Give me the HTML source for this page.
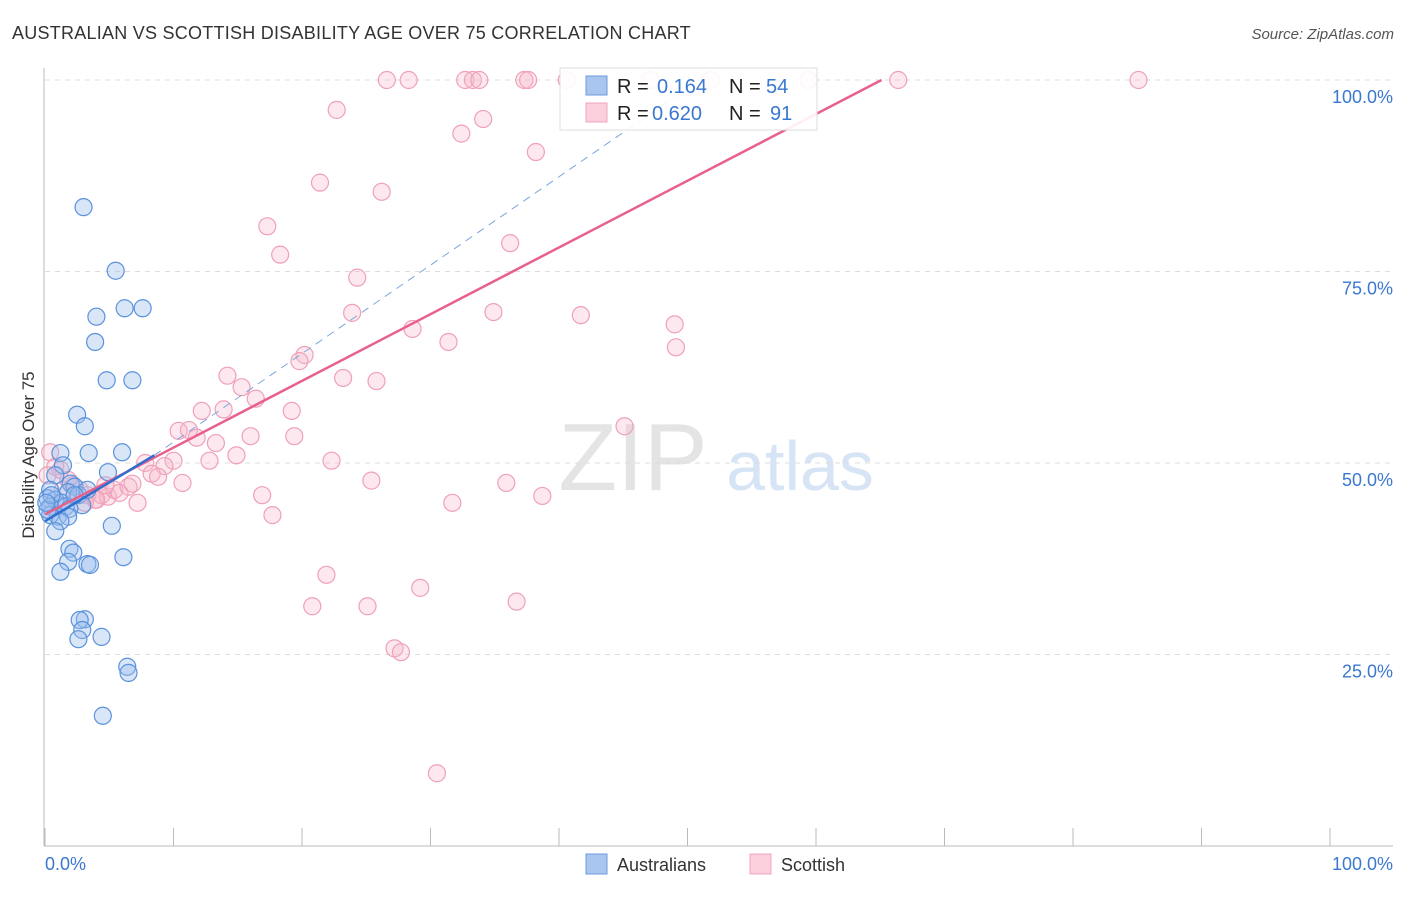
<!DOCTYPE html>
<html><head><meta charset="utf-8"><style>
body{margin:0;background:#fff;font-family:"Liberation Sans",sans-serif}
svg text{font-family:"Liberation Sans",sans-serif}
</style></head><body>
<svg id="chart" width="1406" height="892">
<text x="12" y="39" font-size="18" fill="#333" letter-spacing="0.25">AUSTRALIAN VS SCOTTISH DISABILITY AGE OVER 75 CORRELATION CHART</text>
<text x="1394" y="39" font-size="15" fill="#555" font-style="italic" text-anchor="end">Source: ZipAtlas.com</text>
<text x="633" y="490" font-size="96" fill="#e4e4e4" font-family="Liberation Serif" text-anchor="middle">ZIP</text>
<text x="800" y="490" font-size="70" fill="#d6e4f5" text-anchor="middle">atlas</text>
<g id="grid"></g><g id="axes"></g><g id="pts"></g><g id="trends"></g>
<text transform="translate(34,455) rotate(-90)" font-size="17" fill="#333" text-anchor="middle">Disability Age Over 75</text>
<text x="45" y="870" font-size="18" fill="#3a78d0">0.0%</text>
<text x="1393" y="870" font-size="18" fill="#3a78d0" text-anchor="end">100.0%</text>
<g>
<rect x="560" y="68" width="257" height="62" fill="#fff" fill-opacity="0.9" stroke="#ddd"/>
<rect x="586" y="76" width="21" height="19" fill="#a9c6ef" stroke="#6d9be0"/>
<rect x="586" y="103" width="21" height="19" fill="#fbd0dc" stroke="#f2a4ba"/>
<text x="617" y="93" font-size="20" fill="#222">R = </text><text x="657" y="93" font-size="20" fill="#3a78d0">0.164</text>
<text x="729" y="93" font-size="20" fill="#222">N = </text><text x="766" y="93" font-size="20" fill="#3a78d0">54</text>
<text x="617" y="120" font-size="20" fill="#222">R = </text><text x="652" y="120" font-size="20" fill="#3a78d0">0.620</text>
<text x="729" y="120" font-size="20" fill="#222">N = </text><text x="770" y="120" font-size="20" fill="#3a78d0">91</text>
</g>
<g><rect x="586" y="854" width="21" height="20" fill="#a9c6ef" stroke="#6d9be0"/><text x="617" y="871" font-size="18" fill="#333">Australians</text></g>
<g><rect x="750" y="854" width="21" height="20" fill="#fbd0dc" stroke="#f2a4ba"/><text x="781" y="871" font-size="18" fill="#333">Scottish</text></g>
</svg>
<script>
const yTicks=[25,50,75,100];
const yTickLabels=["25.0%","50.0%","75.0%","100.0%"];
const xTicks=[0,10,20,30,40,50,60,70,80,90,100];
const ausX=[3.0,5.5,4.0,6.2,7.6,3.9,4.8,6.8,2.5,3.1,1.2,3.4,6.0,1.4,4.9,0.8,2.0,2.3,0.4,1.8,2.6,0.2,0.8,1.3,2.9,0.4,1.6,1.9,1.0,1.8,0.4,1.2,5.2,0.8,1.9,2.2,1.8,6.1,3.3,3.5,1.2,3.1,2.7,2.9,2.6,4.4,6.4,6.5,4.5,0.2,0.5,0.1,3.3,2.3];
const ausY=[83.4,75.1,69.1,70.2,70.2,65.8,60.8,60.8,56.3,54.8,51.3,51.3,51.4,49.7,48.8,48.4,47.3,46.9,46.5,46.2,45.8,45.4,45.2,44.8,44.5,44.3,44.3,44.0,43.0,43.0,43.2,42.4,41.8,41.1,38.8,38.3,37.1,37.7,36.8,36.7,35.8,29.6,29.5,28.2,27.0,27.3,23.4,22.6,17.0,43.9,45.8,44.8,46.5,45.8];
const scoX=[26.6,28.3,32.7,33.3,33.8,37.3,37.6,40.6,47.1,51.8,59.4,66.4,85.1,22.7,34.1,32.4,38.2,21.4,26.2,17.3,18.3,36.2,24.3,23.9,34.9,28.6,41.7,49.0,31.4,49.1,20.2,19.8,14.2,15.3,23.2,25.8,16.4,13.9,12.2,19.2,10.4,11.2,11.8,16.0,13.3,19.4,14.9,12.8,22.3,10.0,7.8,9.3,8.3,8.8,10.7,25.4,35.9,45.1,16.9,38.7,31.7,7.2,17.7,21.9,20.8,25.1,29.2,36.7,27.2,27.7,30.5,0.4,0.8,1.2,1.8,2.2,2.7,3.3,3.9,4.4,4.9,5.4,5.8,6.5,6.8,4.7,3.1,4.0,1.4,0.2];
const scoY=[100,100,100,100,100,100,100,100,100,100,100,100,100,96.1,94.9,93.0,90.6,86.6,85.4,80.9,77.2,78.7,74.2,69.6,69.7,67.5,69.3,68.1,65.8,65.1,64.1,63.3,61.4,59.9,61.1,60.7,58.4,57.0,56.8,56.8,54.2,54.3,53.3,53.5,52.6,53.5,51.0,50.3,50.3,50.3,50.0,49.6,48.6,48.2,47.4,47.7,47.4,54.8,45.8,45.7,44.8,44.8,43.2,35.4,31.3,31.3,33.7,31.9,25.8,25.3,9.5,51.4,49.5,49.1,47.8,47.1,46.5,45.8,45.2,45.8,45.6,46.5,46.1,46.9,47.3,47.1,44.8,45.2,46.5,48.4];
const ausTrendX=[0,8.5,50.5];
const ausTrendY=[42.4,51,99.5];
const scoTrendX=[0,65.1];
const scoTrendY=[43.3,100];

const NS="http://www.w3.org/2000/svg";
const X=v=>45+v*12.85, Y=v=>846-v*7.66;
function mk(t,a,p){const e=document.createElementNS(NS,t);for(const k in a)e.setAttribute(k,a[k]);document.getElementById(p).appendChild(e);return e;}
yTicks.forEach((t,i)=>{
 const l=mk('line',{x1:45,x2:1393,y1:Y(t),y2:Y(t),stroke:'#ddd','stroke-dasharray':'5,5'},'grid');
 
 
 const tx=mk('text',{x:1393,y:Y(t)+23,'font-size':18,fill:'#3a78d0','text-anchor':'end'},'grid');tx.textContent=yTickLabels[i];
 
 
});
mk('line',{x1:44,x2:44,y1:68,y2:846,stroke:'#bbb'},'axes');
mk('line',{x1:44,x2:1393,y1:846,y2:846,stroke:'#bbb'},'axes');
xTicks.forEach(t=>{const l=mk('line',{x1:X(t),x2:X(t),y1:828,y2:846,stroke:'#bbb'},'axes');
 
 });
scoX.forEach((x,i)=>{const c=mk('circle',{cx:X(x),cy:Y(scoY[i]),r:8.5,fill:'#f7b6c9','fill-opacity':0.32,stroke:'#f0a0b8','stroke-width':1.2},'pts');
 
 });
ausX.forEach((x,i)=>{const c=mk('circle',{cx:X(x),cy:Y(ausY[i]),r:8.5,fill:'#98bdec','fill-opacity':0.38,stroke:'#5b92dc','stroke-width':1.2},'pts');
 
 });
let l=mk('line',{x1:X(ausTrendX[1]),y1:Y(ausTrendY[1]),x2:X(ausTrendX[2]),y2:Y(ausTrendY[2]),stroke:'#7aa6e0','stroke-width':1,'stroke-dasharray':'8,6'},'trends');


l=mk('line',{x1:X(scoTrendX[0]),y1:Y(scoTrendY[0]),x2:X(scoTrendX[1]),y2:Y(scoTrendY[1]),stroke:'#e8608c','stroke-width':2.5},'trends');


l=mk('line',{x1:X(ausTrendX[0]),y1:Y(ausTrendY[0]),x2:X(ausTrendX[1]),y2:Y(ausTrendY[1]),stroke:'#2f6fd0','stroke-width':2.5},'trends');


</script>
</body></html>
